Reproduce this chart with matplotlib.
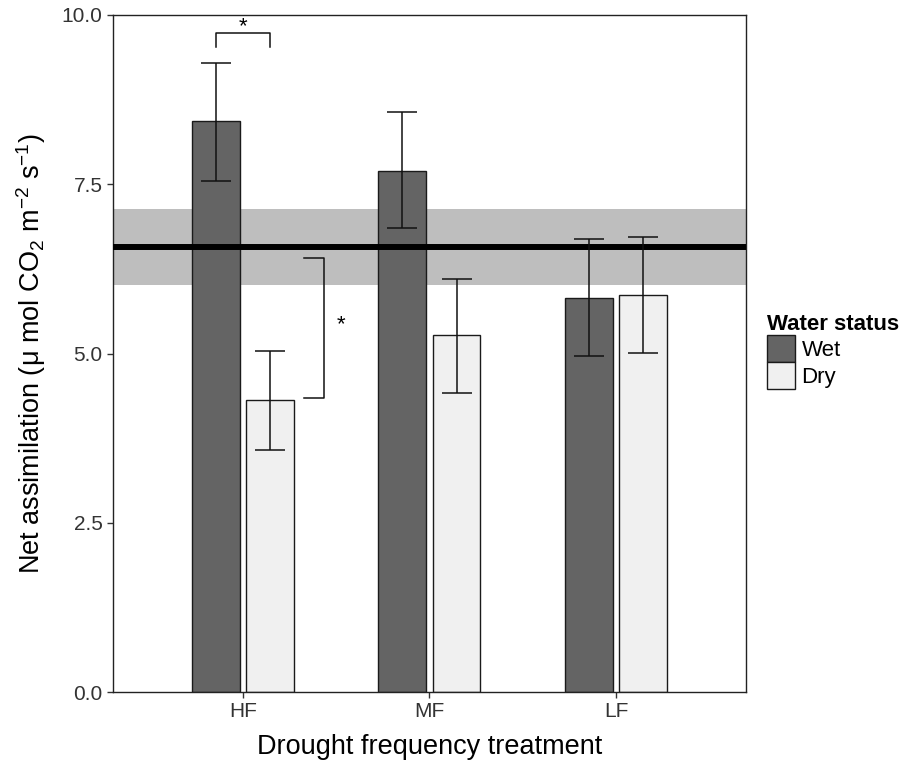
import numpy as np
from matplotlib import pyplot as plt
from matplotlib.patches import Patch

plt.rcParams["font.family"] = ["Liberation Sans", "DejaVu Sans"]
plt.rcParams["mathtext.fontset"] = "custom"
plt.rcParams["mathtext.rm"] = "Liberation Sans"
plt.rcParams["mathtext.it"] = "Liberation Sans:italic"

# data
treatments = ["HF", "MF", "LF"]
wet_mean = [8.43, 7.70, 5.82]
wet_lo = [7.55, 6.85, 4.97]
wet_hi = [9.29, 8.57, 6.69]
dry_mean = [4.32, 5.27, 5.86]
dry_lo = [3.57, 4.42, 5.01]
dry_hi = [5.04, 6.10, 6.72]

ref_mean = 6.57
ref_lo, ref_hi = 6.01, 7.14

wet_color = "#646464"
dry_color = "#f0f0f0"
band_color = "#bebebe"

fig = plt.figure(figsize=(9.03, 7.65), dpi=100)
ax = fig.add_axes([0.1251, 0.0954, 0.7010, 0.8850])

x = np.arange(1, len(treatments) + 1)
off = 0.146
width = 0.255

# reference band and mean line
ax.axhspan(ref_lo, ref_hi, color=band_color, lw=0, zorder=1)

ax.bar(x - off, wet_mean, width, color=wet_color, edgecolor="#1a1a1a",
       linewidth=1.0, zorder=2)
ax.bar(x + off, dry_mean, width, color=dry_color, edgecolor="#1a1a1a",
       linewidth=1.0, zorder=2)

ax.axhline(ref_mean, color="black", lw=4.3, zorder=3)

for xs, m, lo, hi in [(x - off, wet_mean, wet_lo, wet_hi),
                      (x + off, dry_mean, dry_lo, dry_hi)]:
    m = np.array(m)
    yerr = [m - np.array(lo), np.array(hi) - m]
    ax.errorbar(xs, m, yerr=yerr, fmt="none", ecolor="#111111",
                elinewidth=1.1, capsize=10.5, capthick=1.1, zorder=4)

# significance brackets
ax.plot([1 - off, 1 - off, 1 + off, 1 + off], [9.53, 9.73, 9.73, 9.53],
        color="#111111", lw=1.1, zorder=4)
ax.text(1.0, 9.83, "*", ha="center", va="center", fontsize=16)
ax.plot([1.327, 1.434, 1.434, 1.327], [6.41, 6.41, 4.34, 4.34],
        color="#111111", lw=1.1, zorder=4)
ax.text(1.525, 5.42, "*", ha="center", va="center", fontsize=16)

ax.set_xlim(0.303, 3.697)
ax.set_ylim(0, 10)
ax.set_xticks(x)
ax.set_xticklabels(treatments)
ax.set_yticks([0, 2.5, 5.0, 7.5, 10.0])
ax.set_yticklabels(["0.0", "2.5", "5.0", "7.5", "10.0"])
ax.tick_params(labelsize=15, length=4.5, width=1, pad=3, color="#333333",
               labelcolor="#333333")
for s in ax.spines.values():
    s.set_linewidth(1.0)
    s.set_color("#222222")

ax.set_xlabel("Drought frequency treatment", fontsize=19.5, labelpad=9)
ax.set_ylabel(r"Net assimilation ($\mathregular{\mu}$ mol CO$_2$ m$^{-2}$ s$^{-1}$)",
              fontsize=19.5, labelpad=10)

handles = [Patch(facecolor=wet_color, edgecolor="#1a1a1a", label="Wet"),
           Patch(facecolor=dry_color, edgecolor="#1a1a1a", label="Dry")]
leg = fig.legend(handles=handles, title="Water status", loc="upper left",
                 bbox_to_anchor=(0.849, 0.590), frameon=False, fontsize=16,
                 title_fontproperties={"weight": "bold", "size": 16},
                 handlelength=1.27, handleheight=1.5, handletextpad=0.3,
                 labelspacing=0.0, borderpad=0, borderaxespad=0)
leg._legend_box.align = "left"

fig.savefig("out.png", dpi=100)
